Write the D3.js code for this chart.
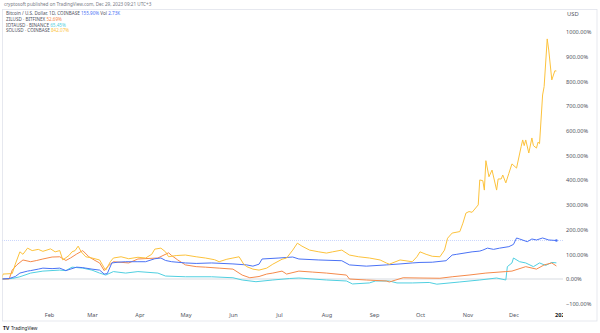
<!DOCTYPE html>
<html>
<head>
<meta charset="utf-8">
<script src="https://cdn.jsdelivr.net/npm/d3@7"></script>
<style>
  body { margin: 0; background: #fff; }
  text { font-family: "Noto Sans", "DejaVu Sans", sans-serif; }
</style>
</head>
<body>
<div id="chart"></div>
<script>
// Valeurs (variation en % depuis le 1er janvier 2023)
const btcData = [
  ["2023-01-01", 0], ["2023-01-06", 2], ["2023-01-10", 10], ["2023-01-13", 24], ["2023-01-18", 32],
  ["2023-01-20", 34], ["2023-01-25", 40], ["2023-01-28", 44], ["2023-02-03", 42], ["2023-02-08", 44],
  ["2023-02-12", 34], ["2023-02-16", 42], ["2023-02-19", 48], ["2023-02-23", 46], ["2023-02-25", 44],
  ["2023-03-01", 40], ["2023-03-06", 36], ["2023-03-09", 20], ["2023-03-11", 22], ["2023-03-14", 65],
  ["2023-03-18", 68], ["2023-03-23", 70], ["2023-03-31", 70], ["2023-04-05", 70], ["2023-04-11", 82],
  ["2023-04-15", 85], ["2023-04-18", 75], ["2023-04-22", 70], ["2023-05-01", 65], ["2023-05-08", 63],
  ["2023-05-18", 65], ["2023-06-01", 61], ["2023-06-10", 57], ["2023-06-14", 52], ["2023-06-18", 60],
  ["2023-06-20", 81], ["2023-07-01", 85], ["2023-07-10", 89], ["2023-07-14", 81], ["2023-07-27", 77],
  ["2023-08-11", 74], ["2023-08-16", 57], ["2023-08-27", 52], ["2023-09-09", 57], ["2023-09-18", 61],
  ["2023-09-26", 65], ["2023-10-01", 67], ["2023-10-09", 68], ["2023-10-18", 74], ["2023-10-22", 97],
  ["2023-10-25", 100], ["2023-11-04", 110], ["2023-11-09", 113], ["2023-11-11", 117], ["2023-11-14", 125],
  ["2023-11-18", 120], ["2023-11-22", 125], ["2023-11-28", 131], ["2023-12-01", 140], ["2023-12-03", 166],
  ["2023-12-05", 162], ["2023-12-10", 151], ["2023-12-13", 162], ["2023-12-16", 158], ["2023-12-20", 166],
  ["2023-12-24", 158], ["2023-12-29", 155.9]
];

const zilData = [
  ["2023-01-01", 0], ["2023-01-06", 0], ["2023-01-08", 36], ["2023-01-11", 57], ["2023-01-15", 77],
  ["2023-01-20", 70], ["2023-01-24", 75], ["2023-01-28", 81], ["2023-02-03", 89], ["2023-02-08", 90],
  ["2023-02-12", 75], ["2023-02-15", 85], ["2023-02-19", 101], ["2023-02-23", 115], ["2023-02-27", 90],
  ["2023-03-03", 75], ["2023-03-06", 65], ["2023-03-09", 34], ["2023-03-12", 55], ["2023-03-15", 70],
  ["2023-03-25", 65], ["2023-03-31", 81], ["2023-04-13", 85], ["2023-04-20", 106], ["2023-04-22", 95],
  ["2023-04-26", 77], ["2023-05-01", 57], ["2023-05-08", 50], ["2023-05-14", 48], ["2023-05-23", 44],
  ["2023-06-01", 40], ["2023-06-07", 16], ["2023-06-12", 5], ["2023-06-18", 10], ["2023-06-23", 20],
  ["2023-06-27", 24], ["2023-07-03", 32], ["2023-07-06", 20], ["2023-07-14", 32], ["2023-07-23", 28],
  ["2023-08-01", 24], ["2023-08-14", 16], ["2023-08-16", 0], ["2023-08-27", -4], ["2023-09-09", -8],
  ["2023-09-11", -12], ["2023-09-20", 5], ["2023-10-01", 4], ["2023-10-14", 3], ["2023-10-22", 9],
  ["2023-11-02", 16], ["2023-11-13", 24], ["2023-11-26", 30], ["2023-11-30", 32], ["2023-12-09", 50],
  ["2023-12-16", 40], ["2023-12-21", 57], ["2023-12-26", 65], ["2023-12-29", 52.69]
];

const iotaData = [
  ["2023-01-01", 0], ["2023-01-08", 2], ["2023-01-13", 9], ["2023-01-20", 24], ["2023-01-28", 32],
  ["2023-02-08", 36], ["2023-02-12", 34], ["2023-02-16", 48], ["2023-02-23", 44], ["2023-03-01", 36],
  ["2023-03-06", 24], ["2023-03-10", 16], ["2023-03-15", 30], ["2023-03-23", 24], ["2023-03-31", 30],
  ["2023-04-13", 24], ["2023-04-18", 12], ["2023-05-01", 9], ["2023-05-18", 9], ["2023-06-01", 5],
  ["2023-06-07", -4], ["2023-06-16", -11], ["2023-06-27", -4], ["2023-07-08", 2], ["2023-07-14", 4],
  ["2023-08-01", -4], ["2023-08-14", -8], ["2023-08-18", -20], ["2023-08-29", -16], ["2023-09-02", -8],
  ["2023-09-11", -8], ["2023-09-16", -16], ["2023-09-26", -16], ["2023-10-07", -14], ["2023-10-12", -21],
  ["2023-10-27", -12], ["2023-11-09", -4], ["2023-11-20", 4], ["2023-11-26", -4], ["2023-11-27", 50],
  ["2023-11-30", 65], ["2023-12-01", 85], ["2023-12-05", 70], ["2023-12-09", 65], ["2023-12-14", 50],
  ["2023-12-18", 65], ["2023-12-22", 55], ["2023-12-26", 67], ["2023-12-29", 65.45]
];

const solData = [
  ["2023-01-01", 0], ["2023-01-02", 20], ["2023-01-08", 22], ["2023-01-10", 60], ["2023-01-13", 110],
  ["2023-01-15", 100], ["2023-01-18", 125], ["2023-01-21", 115], ["2023-01-25", 120], ["2023-01-28", 112],
  ["2023-02-02", 122], ["2023-02-05", 110], ["2023-02-08", 115], ["2023-02-10", 77], ["2023-02-14", 95],
  ["2023-02-16", 110], ["2023-02-18", 115], ["2023-02-20", 133], ["2023-02-22", 110], ["2023-02-25", 90],
  ["2023-03-01", 85], ["2023-03-06", 77], ["2023-03-09", 45], ["2023-03-10", 36], ["2023-03-13", 70],
  ["2023-03-15", 85], ["2023-03-20", 90], ["2023-03-25", 82], ["2023-03-31", 88], ["2023-04-05", 85],
  ["2023-04-09", 100], ["2023-04-11", 121], ["2023-04-15", 125], ["2023-04-18", 110], ["2023-04-20", 90],
  ["2023-04-25", 95], ["2023-05-01", 97], ["2023-05-08", 90], ["2023-05-14", 85], ["2023-05-20", 78],
  ["2023-05-23", 70], ["2023-05-28", 80], ["2023-06-01", 85], ["2023-06-05", 90], ["2023-06-08", 60],
  ["2023-06-10", 50], ["2023-06-14", 40], ["2023-06-18", 36], ["2023-06-23", 44], ["2023-06-27", 60],
  ["2023-07-03", 80], ["2023-07-06", 85], ["2023-07-10", 117], ["2023-07-13", 145], ["2023-07-16", 133],
  ["2023-07-21", 117], ["2023-07-27", 110], ["2023-08-01", 105], ["2023-08-05", 110], ["2023-08-11", 117],
  ["2023-08-16", 97], ["2023-08-22", 90], ["2023-08-29", 85], ["2023-09-05", 77], ["2023-09-09", 65],
  ["2023-09-11", 60], ["2023-09-18", 77], ["2023-09-26", 70], ["2023-09-29", 90], ["2023-10-01", 110],
  ["2023-10-05", 100], ["2023-10-09", 92], ["2023-10-14", 90], ["2023-10-17", 117], ["2023-10-19", 165],
  ["2023-10-22", 186], ["2023-10-27", 192], ["2023-10-29", 226], ["2023-10-31", 267], ["2023-11-02", 273],
  ["2023-11-04", 270], ["2023-11-08", 300], ["2023-11-09", 401], ["2023-11-11", 398], ["2023-11-12", 360],
  ["2023-11-13", 479], ["2023-11-15", 414], ["2023-11-17", 441], ["2023-11-20", 360], ["2023-11-21", 405],
  ["2023-11-23", 405], ["2023-11-24", 421], ["2023-11-26", 389], ["2023-11-28", 428], ["2023-11-30", 466],
  ["2023-12-03", 449], ["2023-12-06", 536], ["2023-12-07", 563], ["2023-12-08", 540], ["2023-12-09", 563],
  ["2023-12-11", 510], ["2023-12-13", 571], ["2023-12-14", 540], ["2023-12-16", 530], ["2023-12-17", 554],
  ["2023-12-18", 548], ["2023-12-20", 745], ["2023-12-21", 779], ["2023-12-23", 972], ["2023-12-24", 927],
  ["2023-12-26", 806], ["2023-12-28", 843], ["2023-12-29", 842.07]
];

const yTicks = [-100, 0, 100, 200, 300, 400, 500, 600, 700, 800, 900, 1000];
const monthTicks = ["2023-02-01", "2023-03-01", "2023-04-01", "2023-05-01", "2023-06-01", "2023-07-01",
  "2023-08-01", "2023-09-01", "2023-10-01", "2023-11-01", "2023-12-01", "2024-01-01"];

// Légende : nom, valeur, couleur
const legendNames = ["Bitcoin / U.S. Dollar, 1D, COINBASE", "ZILUSD · BITFINEX", "IOTAUSD · BINANCE", "SOLUSD · COINBASE"];
const legendValues = ["155.90%", "52.69%", "65.45%", "842.07%"];
const colors = ["#4a72f5", "#f58a4b", "#4fcfe0", "#fcc23c"];

const parse = d3.timeParse("%Y-%m-%d");
const W = 600, H = 333;
const plotRight = 563;

const svg = d3.select("#chart").append("svg")
  .attr("width", W).attr("height", H)
  .attr("viewBox", "0 0 " + W + " " + H);

const x = d3.scaleTime()
  .domain([parse("2023-01-01"), parse("2024-01-01")])
  .range([1.5, 561]);
const y = d3.scaleLinear().domain([-100, 1000]).range([303.7, 32]);

// Cadre du graphique
svg.append("rect")
  .attr("x", 2.5).attr("y", 9.5).attr("width", 594.5).attr("height", 311.5)
  .attr("fill", "none").attr("stroke", "#e0e3eb").attr("stroke-width", 0.8);

// Texte d'en-tête
svg.append("text").attr("x", 4).attr("y", 6)
  .attr("font-size", 4.6).attr("fill", "#787b86")
  .text("cryptosoft published on TradingView.com, Dec 29, 2023 09:21 UTC+3");

// Zone de tracé avec découpe
svg.append("defs").append("clipPath").attr("id", "clip")
  .append("rect").attr("x", 2.5).attr("y", 9.5).attr("width", plotRight - 2.5).attr("height", 312);

const plot = svg.append("g").attr("clip-path", "url(#clip)");

// Ligne du zéro
plot.append("line")
  .attr("x1", 0).attr("x2", plotRight).attr("y1", y(0)).attr("y2", y(0))
  .attr("stroke", "#d8dbe2").attr("stroke-width", 1.2);

// Ligne du dernier prix BTC
plot.append("line")
  .attr("x1", 0).attr("x2", plotRight).attr("y1", y(155.9)).attr("y2", y(155.9))
  .attr("stroke", "#b3c3fb").attr("stroke-width", 0.7).attr("stroke-dasharray", "1,1");

const line = d3.line()
  .x(d => x(parse(d[0])))
  .y(d => y(d[1]));

const series = [btcData, zilData, iotaData, solData];
const order = [2, 1, 0, 3];
order.forEach(i => {
  plot.append("path")
    .datum(series[i])
    .attr("fill", "none")
    .attr("stroke", colors[i])
    .attr("stroke-width", 1)
    .attr("stroke-linejoin", "round")
    .attr("d", line);
});

// Point final du BTC
const lastBtc = btcData[btcData.length - 1];
plot.append("circle")
  .attr("cx", x(parse(lastBtc[0]))).attr("cy", y(lastBtc[1])).attr("r", 1.3)
  .attr("fill", colors[0]);

// Axe des prix (droite)
svg.append("g")
  .attr("transform", "translate(566,0)")
  .call(d3.axisRight(y).tickValues(yTicks).tickSize(0).tickPadding(0)
    .tickFormat(d => (d < 0 ? "\u2212" + Math.abs(d).toFixed(2) : d.toFixed(2)) + "%"))
  .call(g => g.select(".domain").remove())
  .call(g => g.selectAll("text")
    .attr("font-size", 5.6).attr("fill", "#50535e")
    .attr("font-family", "Noto Sans, DejaVu Sans, sans-serif"));

svg.append("text").attr("x", 567).attr("y", 16)
  .attr("font-size", 5.8).attr("fill", "#50535e").text("USD");

// Axe du temps (bas), découpé au bord de la zone de tracé
const xAxisWrap = svg.append("g").attr("clip-path", "url(#clip)");
const xAxis = xAxisWrap.append("g")
  .attr("transform", "translate(0,313)")
  .call(d3.axisBottom(x).tickValues(monthTicks.map(parse)).tickSize(0).tickPadding(0)
    .tickFormat(d => d.getMonth() === 0 ? d3.timeFormat("%Y")(d) : d3.timeFormat("%b")(d)))
  .call(g => g.select(".domain").remove());
xAxis.selectAll("text")
  .attr("font-size", 5.6)
  .attr("font-family", "Noto Sans, DejaVu Sans, sans-serif")
  .attr("font-weight", d => d.getMonth() === 0 ? "bold" : "normal")
  .attr("fill", d => d.getMonth() === 0 ? "#131722" : "#50535e");

// Légende
const legend = svg.append("g").attr("transform", "translate(6,0)");
const rowsY = [15, 21, 26.7, 32.4];
legendNames.forEach((name, i) => {
  const t = legend.append("text").attr("x", 0).attr("y", rowsY[i])
    .attr("font-size", 4.6).attr("fill", "#50535e");
  t.append("tspan").text(name + "  ");
  t.append("tspan").attr("fill", colors[i]).text(legendValues[i]);
  if (i === 0) {
    t.append("tspan").text("  Vol ");
    t.append("tspan").attr("fill", colors[0]).text("2.73K");
  }
});

// Logo TradingView
svg.append("text").attr("x", 3).attr("y", 329.5)
  .attr("font-size", 5).attr("font-weight", "bold").attr("fill", "#131722").text("TV");
svg.append("text").attr("x", 11).attr("y", 329.5)
  .attr("font-size", 4.6).attr("fill", "#131722").text("TradingView");
</script>
</body>
</html>
